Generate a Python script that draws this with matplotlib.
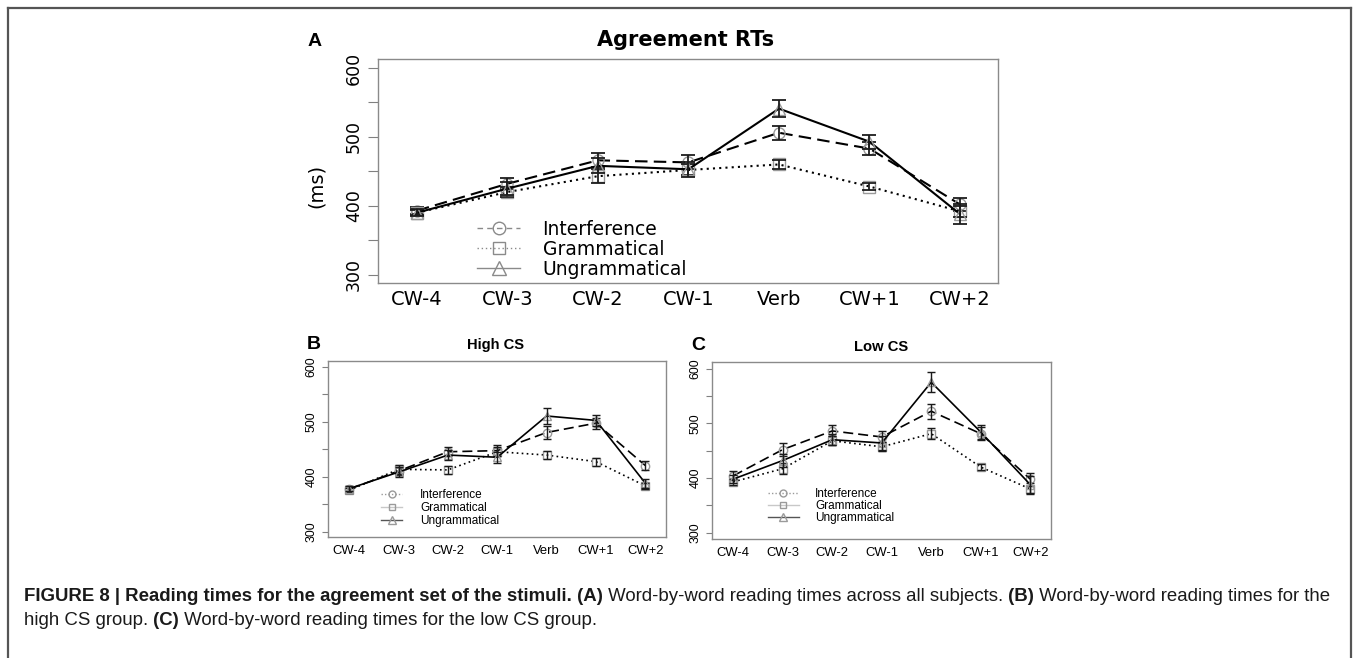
import matplotlib
matplotlib.use('Agg')
import matplotlib.pyplot as plt
from matplotlib import font_manager
from matplotlib.lines import Line2D
from matplotlib.text import Annotation

# word positions and conditions
words = ['CW-4', 'CW-3', 'CW-2', 'CW-1', 'Verb', 'CW+1', 'CW+2']
conditions = ['Interference', 'Grammatical', 'Ungrammatical']
yticks = [300, 350, 400, 450, 500, 550, 600]
ytick_labels = ['300', '', '400', '', '500', '', '600']

# A: all subjects (mean RT, ms) and error bar half-widths
a_interf = [393, 432, 466, 463, 506, 483, 402]
a_gram = [390, 420, 443, 452, 460, 428, 392]
a_ungram = [390, 425, 458, 453, 541, 493, 388]
a_interf_err = [5, 8, 10, 10, 10, 10, 10]
a_gram_err = [4, 7, 10, 8, 6, 5, 8]
a_ungram_err = [5, 9, 11, 11, 12, 10, 15]

# B: high CS group
b_interf = [377, 410, 445, 447, 480, 497, 420]
b_gram = [375, 413, 412, 445, 439, 427, 383]
b_ungram = [378, 408, 439, 435, 510, 502, 388]
b_interf_err = [5, 8, 8, 10, 12, 10, 8]
b_gram_err = [5, 8, 7, 8, 8, 7, 6]
b_ungram_err = [5, 9, 9, 10, 15, 10, 8]

# C: low CS group
c_interf = [404, 452, 486, 475, 522, 481, 398]
c_gram = [393, 417, 468, 457, 481, 420, 380]
c_ungram = [398, 432, 470, 464, 575, 484, 388]
c_interf_err = [8, 12, 10, 10, 14, 12, 12]
c_gram_err = [6, 10, 8, 8, 10, 6, 10]
c_ungram_err = [8, 12, 10, 12, 18, 12, 15]

W, H = 1355, 658

installed = {f.name for f in font_manager.fontManager.ttflist}
narrow = 'Liberation Sans Narrow' if 'Liberation Sans Narrow' in installed else 'Liberation Sans'
nk = 1.0 if narrow == 'Liberation Sans Narrow' else 0.85

styles = {
    'Interference': ((0, (6, 3)), 'o'),
    'Grammatical': ((0, (1, 2)), 's'),
    'Ungrammatical': ('-', '^'),
}


def px(x, y):
    return x / W, 1 - y / H


fig = plt.figure(figsize=(W / 100, H / 100), dpi=100)


def panel(rect, series, errs, ylim, lw, ms, cap, font, fs_x, fs_y, ylen, xpad, ypad):
    ax = fig.add_axes(rect)
    x = list(range(len(words)))
    for name in conditions:
        ls, mk = styles[name]
        ax.plot(x, series[name], color='black', ls=ls, lw=lw, marker=mk, ms=ms,
                mfc='none', mec='#9a9a9a', mew=1)
        ax.errorbar(x, series[name], yerr=errs[name], fmt='none', ecolor='#1a1a1a',
                    elinewidth=lw * 0.85, capsize=cap, capthick=lw * 0.85)
    ax.set_xlim(-0.43, 6.42)
    ax.set_ylim(*ylim)
    ax.set_xticks(x)
    ax.set_xticklabels(words, fontsize=fs_x, family=font)
    ax.set_yticks(yticks)
    ax.set_yticklabels(ytick_labels, fontsize=fs_y, family=font, rotation=90, va='center')
    ax.tick_params(axis='x', length=0, pad=xpad)
    ax.tick_params(axis='y', length=ylen, pad=ypad, color='#808080')
    for s in ax.spines.values():
        s.set_color('#8a8a8a')
        s.set_linewidth(1)
    return ax


axA = panel([378 / W, 1 - 283 / H, 620 / W, 224 / H],
            {'Interference': a_interf, 'Grammatical': a_gram, 'Ungrammatical': a_ungram},
            {'Interference': a_interf_err, 'Grammatical': a_gram_err, 'Ungrammatical': a_ungram_err},
            (288, 613), 1.5, 8, 4.7, 'DejaVu Sans', 14, 12.5, 7, 5, 4)
axB = panel([328 / W, 1 - 537 / H, 338 / W, 176 / H],
            {'Interference': b_interf, 'Grammatical': b_gram, 'Ungrammatical': b_ungram},
            {'Interference': b_interf_err, 'Grammatical': b_gram_err, 'Ungrammatical': b_ungram_err},
            (290, 610), 1.2, 6, 3, narrow, 11 * nk, 10.5 * nk, 4.5, 5.4, 3)
axC = panel([712 / W, 1 - 539 / H, 339 / W, 177 / H],
            {'Interference': c_interf, 'Grammatical': c_gram, 'Ungrammatical': c_ungram},
            {'Interference': c_interf_err, 'Grammatical': c_gram_err, 'Ungrammatical': c_ungram_err},
            (288.5, 612), 1.2, 6, 3.2, narrow, 11 * nk, 10.5 * nk, 4.5, 5.4, 3)

# legends
legA = [Line2D([], [], color='#8a8a8a', ls=(0, (4, 3)), lw=1, marker='o', ms=9, mfc='none', mec='#8a8a8a'),
        Line2D([], [], color='#8a8a8a', ls=(0, (1, 2)), lw=1, marker='s', ms=9, mfc='none', mec='#8a8a8a'),
        Line2D([], [], color='#8a8a8a', ls='-', lw=1, marker='^', ms=10, mfc='none', mec='#8a8a8a')]
axA.legend(legA, conditions, loc='upper left', bbox_to_anchor=px(477, 220), bbox_transform=fig.transFigure,
           frameon=False, fontsize=13.5, handlelength=2.3, handletextpad=1.2, labelspacing=0.05,
           borderpad=0, borderaxespad=0)

legBC = [Line2D([], [], color='#9a9a9a', ls=(0, (1, 1.5)), lw=1, marker='o', ms=5, mfc='none', mec='#9a9a9a'),
         Line2D([], [], color='#c8c8c8', ls='-', lw=1, marker='s', ms=5, mfc='none', mec='#9a9a9a'),
         Line2D([], [], color='#555555', ls='-', lw=1, marker='^', ms=6, mfc='none', mec='#9a9a9a')]
axB.legend(legBC, conditions, loc='upper left', bbox_to_anchor=px(381, 489), bbox_transform=fig.transFigure,
           frameon=False, prop={'family': narrow, 'size': 10 * nk}, handlelength=1.8, handletextpad=1.5,
           labelspacing=0.1, borderpad=0, borderaxespad=0)
axC.legend(legBC, conditions, loc='upper left', bbox_to_anchor=px(768, 488), bbox_transform=fig.transFigure,
           frameon=False, prop={'family': narrow, 'size': 10 * nk}, handlelength=2.6, handletextpad=1.4,
           labelspacing=0.0, borderpad=0, borderaxespad=0)

# titles and panel letters
fig.text(*px(685.5, 46), 'Agreement RTs', fontsize=15, fontweight='bold', ha='center', va='baseline')
fig.text(*px(316, 186), '(ms)', fontsize=14, rotation=90, ha='center', va='center')
fig.text(*px(496, 349), 'High CS', family=narrow, fontsize=12.5 * nk, fontweight='bold', ha='center', va='baseline')
fig.text(*px(881, 351), 'Low CS', family=narrow, fontsize=12.5 * nk, fontweight='bold', ha='center', va='baseline')
for letter, (lx, ly) in zip(['A', 'B', 'C'], [(315, 46), (314, 349), (698.5, 350)]):
    fig.text(*px(lx, ly), letter, family='Liberation Sans', fontsize=14, fontweight='bold',
             ha='center', va='baseline')

# caption with mixed bold / regular runs
cap_font = dict(family='Liberation Sans', fontsize=13.4, color='#1a1a1a')


def caption_line(x, y, parts):
    prev = fig.text(*px(x, y), parts[0][0], fontweight=parts[0][1], va='bottom', **cap_font)
    for text, weight in parts[1:]:
        ann = Annotation(text, xy=(1, 0), xycoords=prev, va='bottom', ha='left',
                         fontweight=weight, **cap_font)
        fig.add_artist(ann)
        prev = ann


caption_line(24, 605, [
    ('FIGURE 8 | Reading times for the agreement set of the stimuli.', 'bold'),
    (' (A)', 'bold'),
    (' Word-by-word reading times across all subjects.', 'normal'),
    (' (B)', 'bold'),
    (' Word-by-word reading times for the', 'normal'),
])
caption_line(24, 629, [
    ('high CS group.', 'normal'),
    (' (C)', 'bold'),
    (' Word-by-word reading times for the low CS group.', 'normal'),
])

# outer frame
frame = dict(transform=fig.transFigure, color='#555555', lw=1.6)
fig.add_artist(Line2D([8 / W, 8 / W], [0, 1 - 8 / H], **frame))
fig.add_artist(Line2D([8 / W, 1351 / W], [1 - 8 / H, 1 - 8 / H], **frame))
fig.add_artist(Line2D([1351 / W, 1351 / W], [0, 1 - 8 / H], **frame))

fig.savefig('out.png', dpi=100)
